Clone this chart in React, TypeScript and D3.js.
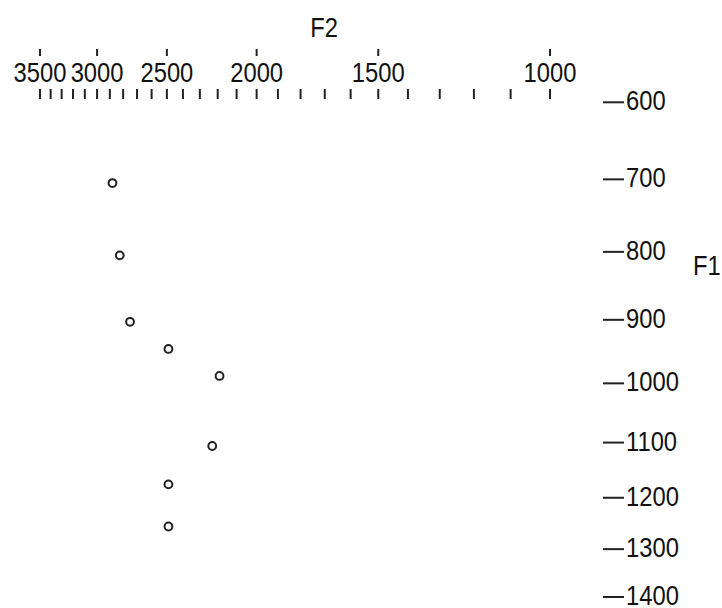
import React from "react";
import * as d3 from "d3";

const f2Values = [2880, 2825, 2750, 2490, 2190, 2230, 2490, 2490];
const f1Values = [705, 805, 903, 945, 988, 1106, 1175, 1255];
const f2MajorTicks = [3500, 3000, 2500, 2000, 1500, 1000];
const f2MinorTicks = d3.range(1000, 3501, 100);
const f1Ticks = [600, 700, 800, 900, 1000, 1100, 1200, 1300, 1400];

const bark = (f: number) =>
  13 * Math.atan(0.00076 * f) + 3.5 * Math.atan((f / 7500) * (f / 7500));

const W = 722;
const H = 608;
const FONT = "'Liberation Sans', Arial, sans-serif";
const SX = 0.88;
const FS = 27;

function Txt(props: { x: number; y: number; anchor?: string; children: React.ReactNode }) {
  return (
    <text
      transform={`translate(${props.x},${props.y}) scale(${SX},1)`}
      fontSize={FS}
      textAnchor={props.anchor || "start"}
      fill="#111"
    >
      {props.children}
    </text>
  );
}

export default function App() {
  const x = d3.scaleLinear().domain([bark(3500), bark(1000)]).range([40, 550]);
  const y = d3.scaleLinear().domain([bark(600), bark(1400)]).range([102.3, 597]);
  const X = (f: number) => x(bark(f));
  const Y = (f: number) => y(bark(f));

  return (
    <svg
      width={W}
      height={H}
      style={{ position: "absolute", left: 0, top: 0, background: "#fff" }}
      fontFamily={FONT}
    >
      <rect width={W} height={H} fill="#fff" />
      <Txt x={324} y={37} anchor="middle">F2</Txt>
      {f2MajorTicks.map((t) => (
        <line key={"M" + t} x1={X(t)} x2={X(t)} y1={49} y2={56} stroke="#222" strokeWidth={2} />
      ))}
      {f2MajorTicks.map((t) => (
        <Txt key={"L" + t} x={X(t)} y={82} anchor="middle">{t}</Txt>
      ))}
      {f2MinorTicks.map((t) => (
        <line key={"m" + t} x1={X(t)} x2={X(t)} y1={89} y2={99} stroke="#222" strokeWidth={2} />
      ))}
      {f1Ticks.map((t) => (
        <g key={"r" + t}>
          <line x1={603} x2={624} y1={Y(t)} y2={Y(t)} stroke="#222" strokeWidth={2} />
          <Txt x={626} y={Y(t) + 8}>{t}</Txt>
        </g>
      ))}
      <Txt x={693} y={275}>F1</Txt>
      {f2Values.map((f2, i) => (
        <circle
          key={"p" + i}
          cx={X(f2)}
          cy={Y(f1Values[i])}
          r={3.9}
          fill="none"
          stroke="#222"
          strokeWidth={2}
        />
      ))}
    </svg>
  );
}
